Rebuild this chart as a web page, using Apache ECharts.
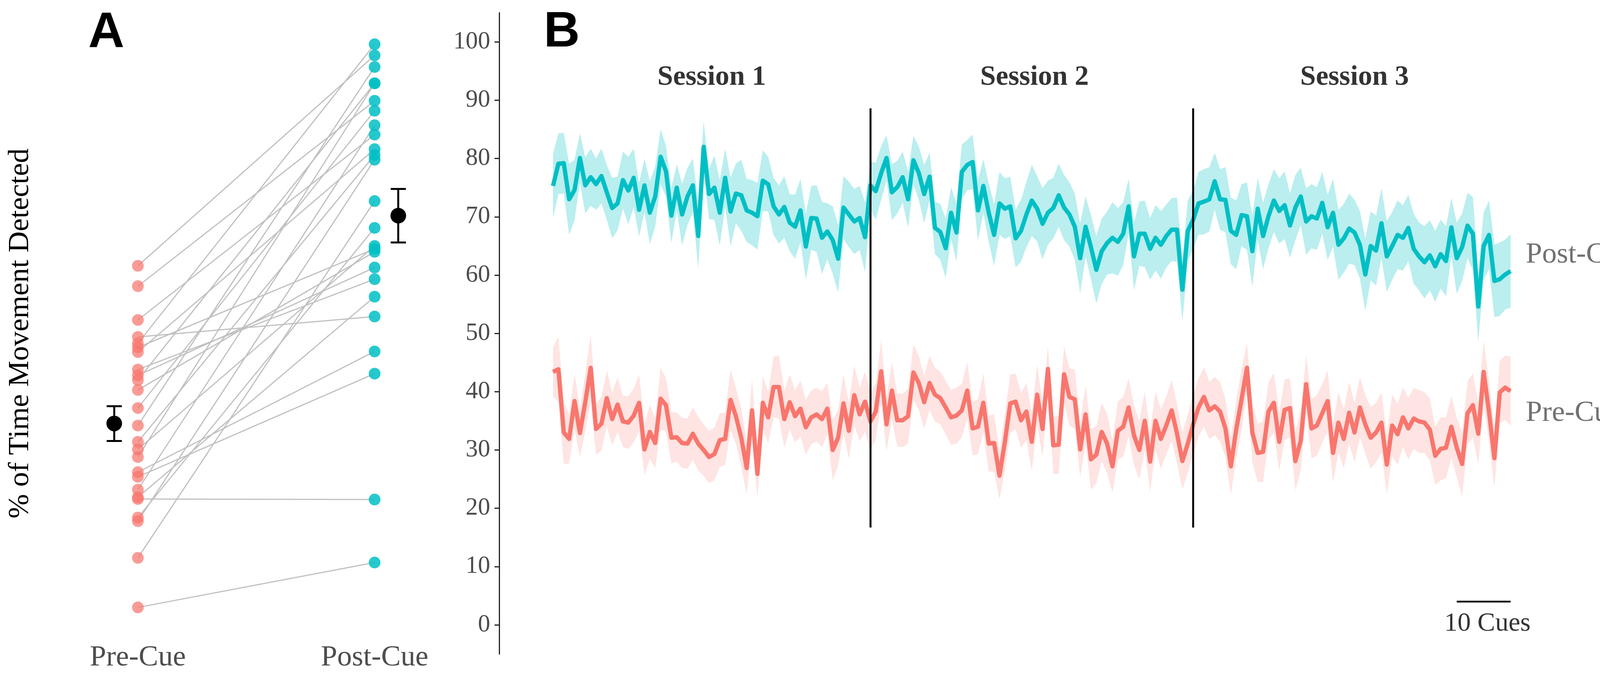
<!DOCTYPE html>
<html>
<head>
<meta charset="utf-8">
<title>% of Time Movement Detected</title>
<script src="https://cdn.jsdelivr.net/npm/echarts@6/dist/echarts.min.js"></script>
<style>
  html, body { margin: 0; padding: 0; background: #fff; overflow: hidden; }
  #chart { width: 4198px; height: 1735px; }
</style>
</head>
<body>
<div id="chart"></div>
<script>
// Panel A: one value per participant (same order in both arrays = pairs)
const preCue = [61.6, 58.1, 52.3, 49.4, 48.3, 47.6, 46.8, 43.8, 42.8, 42.0, 40.3, 37.2, 34.2,
  31.4, 30.1, 28.8, 26.2, 25.4, 23.2, 21.9, 21.6, 18.4, 17.8, 11.5, 3.0];
const postCue = [97.7, 89.9, 84.1, 52.9, 99.6, 64.5, 81.6, 59.3, 61.3, 92.9, 64.0, 88.2, 95.7,
  80.6, 65.0, 92.9, 46.9, 43.1, 85.7, 56.3, 21.5, 68.1, 79.8, 72.7, 10.7];
const groupLabels = ['Pre-Cue', 'Post-Cue'];

// Panel B: mean % per cue, one array per session
const postS1 = [75.3, 79.1, 79.2, 73.0, 74.6, 80.1, 75.4, 76.8, 75.6, 77.0, 74.2, 71.5, 72.3, 76.3, 74.5,
  76.7, 71.2, 75.4, 70.7, 73.5, 80.3, 77.8, 70.2, 75.0, 70.4, 73.5, 75.4, 66.7, 82.0, 73.9, 75.0, 70.7,
  76.7, 70.9, 74.0, 73.7, 71.1, 70.7, 70.1, 76.2, 75.6, 71.8, 70.4, 71.7, 69.0, 68.3, 71.1, 64.9, 69.8,
  69.7, 66.4, 67.5, 66.0, 62.8, 71.6, 70.4, 69.2, 69.8, 66.5, 75.4];
const postS2 = [74.4, 77.5, 80.1, 74.2, 75.1, 76.8, 73.0, 79.7, 77.5, 73.9, 76.9, 68.1, 67.4, 64.6, 70.7,
  67.3, 77.7, 78.9, 79.4, 71.1, 75.3, 70.7, 66.9, 72.3, 71.4, 71.8, 66.3, 67.6, 70.4, 72.8, 71.4, 68.8,
  70.7, 71.5, 73.7, 71.6, 70.4, 68.3, 62.9, 68.3, 64.8, 60.9, 64.1, 65.5, 66.4, 65.7, 67.1, 71.8, 63.2,
  67.1, 67.1, 64.5, 66.4, 65.2, 66.7, 67.8, 67.8, 57.5, 67.6, 69.5];
const postS3 = [72.3, 72.6, 73.0, 76.1, 73.0, 72.9, 67.6, 66.9, 70.3, 70.1, 64.1, 71.4, 66.7, 70.1, 72.8,
  71.0, 72.0, 68.5, 71.6, 73.5, 69.2, 70.1, 69.7, 72.4, 68.2, 70.7, 65.2, 66.3, 68.0, 67.3, 65.2, 60.1,
  65.0, 64.2, 68.9, 63.2, 65.0, 66.9, 66.4, 68.1, 64.5, 63.2, 62.2, 63.4, 61.5, 63.6, 62.4, 68.2, 62.9,
  64.8, 68.5, 67.1, 54.6, 65.0, 66.9, 59.0, 59.3, 60.1, 60.7];
const preS1 = [43.4, 43.85, 33.0, 31.9, 38.4, 32.9, 38.2, 44.1, 33.6, 34.5, 38.9, 35.3, 37.8, 34.9, 34.7,
  35.9, 38.1, 30.1, 33.1, 31.2, 38.8, 37.7, 32.1, 32.2, 31.2, 31.1, 32.8, 31.1, 30.0, 28.8, 29.3, 31.7,
  31.9, 38.6, 35.8, 32.1, 26.9, 36.8, 25.9, 38.1, 35.6, 40.8, 40.8, 35.3, 38.2, 35.8, 37.1, 33.9, 35.6,
  36.1, 35.3, 37.1, 30.0, 32.1, 38.0, 33.3, 39.4, 36.1, 38.3, 34.9];
const preS2 = [36.6, 43.5, 34.4, 40.2, 35.1, 35.1, 35.8, 43.3, 41.5, 38.2, 41.5, 39.5, 38.9, 37.3, 35.6,
  35.9, 36.8, 40.2, 33.7, 34.0, 38.1, 31.1, 31.2, 25.6, 31.4, 38.0, 38.3, 35.1, 36.6, 31.4, 39.5, 33.6,
  43.9, 30.8, 30.9, 43.0, 39.1, 38.7, 30.1, 36.1, 28.4, 29.2, 33.1, 31.1, 27.2, 33.3, 34.0, 37.3, 32.5,
  30.0, 35.0, 28.0, 35.0, 31.9, 34.2, 36.8, 32.8, 28.1, 31.1, 34.4];
const preS3 = [37.3, 39.1, 36.8, 37.5, 36.6, 33.7, 27.2, 33.5, 38.7, 44.1, 33.0, 29.5, 29.7, 36.6, 38.1,
  31.4, 36.9, 37.2, 28.1, 31.6, 41.3, 33.7, 34.2, 36.3, 38.4, 29.5, 34.7, 31.9, 36.4, 33.0, 37.3, 34.4,
  32.1, 33.0, 34.7, 27.5, 34.2, 32.7, 35.6, 33.7, 35.4, 34.9, 34.7, 33.5, 29.0, 30.2, 30.4, 34.0, 30.4,
  27.6, 36.3, 37.7, 32.8, 43.4, 36.5, 28.6, 39.9, 40.7, 40.1];

// standard error of each mean (half-height of the ribbon)
const postSeS1 = [5.5, 5.2, 5.2, 6.1, 5.2, 4.2, 4.8, 4.9, 4.4, 4.7, 4.7, 5.2, 4.6, 4.9, 5.8, 5.0, 4.6, 4.6,
  5.4, 5.2, 4.7, 4.4, 4.7, 4.0, 5.3, 4.9, 4.6, 5.6, 4.4, 4.3, 5.5, 5.6, 5.0, 5.9, 5.1, 6.1, 5.4, 5.6, 5.7,
  5.2, 4.7, 4.9, 5.0, 5.3, 4.9, 5.5, 5.4, 5.7, 5.5, 5.7, 6.2, 4.8, 5.8, 5.8, 5.4, 5.6, 5.6, 5.5, 6.0, 4.0];
const postSeS2 = [4.9, 4.6, 3.9, 4.8, 4.5, 4.4, 4.8, 4.2, 4.6, 5.0, 4.1, 4.5, 4.8, 5.1, 4.4, 5.0, 4.7, 4.3,
  4.7, 5.2, 4.6, 5.0, 5.3, 5.4, 5.2, 5.1, 5.0, 5.3, 5.6, 6.1, 5.6, 6.1, 5.5, 5.2, 5.4, 5.6, 5.5, 5.7, 6.0,
  5.2, 5.5, 5.8, 5.6, 5.4, 6.1, 5.8, 5.4, 4.7, 5.8, 5.5, 5.7, 5.3, 5.6, 5.8, 5.4, 5.4, 5.5, 5.4, 5.2, 5.0];
const postSeS3 = [5.4, 5.6, 5.5, 4.9, 5.2, 5.6, 5.7, 5.9, 5.3, 5.8, 6.1, 5.3, 5.7, 5.5, 5.4, 5.6, 5.8, 5.5,
  5.6, 4.9, 5.7, 5.5, 5.4, 5.3, 5.6, 5.8, 6.0, 5.9, 6.0, 5.6, 5.8, 6.2, 5.9, 6.0, 6.0, 6.1, 5.8, 5.9, 5.6,
  5.7, 6.0, 5.8, 6.2, 6.0, 6.1, 5.9, 6.0, 5.0, 6.1, 5.8, 5.6, 6.3, 6.0, 5.8, 5.9, 6.2, 6.3, 6.0, 6.3];
const preSeS1 = [4.2, 5.6, 5.4, 4.2, 4.7, 4.1, 5.0, 5.6, 4.4, 4.6, 4.8, 4.5, 4.7, 4.4, 4.5, 4.6, 4.9, 4.4,
  4.6, 4.3, 5.3, 4.6, 4.4, 4.2, 4.3, 4.3, 4.5, 4.6, 4.4, 4.5, 4.5, 4.6, 4.5, 5.2, 4.8, 5.0, 4.5, 5.3, 4.1,
  4.5, 4.4, 5.2, 5.4, 4.9, 4.7, 4.5, 4.8, 4.7, 4.6, 4.6, 4.8, 4.4, 5.2, 4.8, 5.0, 4.8, 5.1, 4.6, 5.2, 4.9];
const preSeS2 = [4.8, 5.3, 4.6, 4.9, 4.5, 4.6, 4.7, 4.8, 4.6, 4.5, 4.7, 4.6, 4.5, 4.6, 4.7, 4.8, 4.6, 4.9,
  4.6, 4.7, 5.0, 4.8, 4.9, 4.1, 4.8, 5.0, 4.8, 4.7, 4.9, 5.0, 5.1, 4.8, 3.9, 4.9, 5.0, 4.8, 4.9, 5.1, 4.7,
  5.0, 5.2, 4.9, 5.0, 5.1, 4.5, 5.0, 5.1, 5.0, 5.1, 5.0, 5.0, 5.2, 5.0, 5.1, 5.0, 5.2, 5.1, 4.9, 5.0, 5.1];
const preSeS3 = [5.0, 5.1, 4.9, 5.0, 5.1, 5.0, 4.9, 5.0, 5.2, 4.2, 5.1, 5.0, 5.2, 5.0, 5.1, 5.0, 5.2, 5.1,
  5.0, 5.2, 4.9, 5.1, 5.2, 5.0, 5.3, 5.1, 5.2, 5.0, 5.3, 5.1, 5.2, 5.0, 5.3, 5.1, 5.2, 5.0, 5.3, 5.2, 5.1,
  5.3, 5.2, 5.4, 5.2, 5.3, 5.0, 5.4, 5.2, 5.3, 5.1, 5.5, 5.4, 5.5, 5.3, 5.4, 5.3, 5.0, 5.4, 5.5, 5.9];

const sessionNames = ['Session 1', 'Session 2', 'Session 3'];
const yTicks = [0, 10, 20, 30, 40, 50, 60, 70, 80, 90, 100];
const scaleBarCues = 10;

const TEAL = '#00BFC4';
const SALMON = '#F8766D';
const SERIF = "'Liberation Serif', 'Times New Roman', serif";

const post = postS1.concat(postS2, postS3);
const pre = preS1.concat(preS2, preS3);
const postSe = postSeS1.concat(postSeS2, postSeS3);
const preSe = preSeS1.concat(preSeS2, preSeS3);
const nCues = post.length;
const sessionLens = [postS1.length, postS2.length, postS3.length];

// session boundaries and label centres in cue units
let start = 1;
const breaks = [];
const mids = [];
sessionLens.forEach((len, i) => {
  mids.push(start + (len - 1) / 2);
  start += len;
  if (i < sessionLens.length - 1) breaks.push(start - 1);
});

const xy = arr => arr.map((v, i) => [i + 1, v]);

function meanSe(arr) {
  const m = arr.reduce((a, b) => a + b, 0) / arr.length;
  const sd = Math.sqrt(arr.reduce((a, b) => a + (b - m) * (b - m), 0) / (arr.length - 1));
  return [m, sd / Math.sqrt(arr.length)];
}
const [preMean, preSeA] = meanSe(preCue);
const [postMean, postSeA] = meanSe(postCue);

function errorBar(x, m, se) {
  const w = 0.032;
  return [
    { coords: [[x, m - se], [x, m + se]] },
    { coords: [[x - w, m + se], [x + w, m + se]] },
    { coords: [[x - w, m - se], [x + w, m - se]] }
  ];
}

// mean +/- se ribbon drawn as one polygon through the axis scales
function band(mean, se, color) {
  const upper = mean.map((v, i) => [i + 1, v + se[i]]);
  const lower = mean.map((v, i) => [i + 1, v - se[i]]);
  return {
    type: 'custom', xAxisIndex: 1, yAxisIndex: 1, silent: true, z: 1,
    data: [[1, mean[0]]],
    renderItem: (params, api) => {
      const pts = upper.map(p => api.coord(p)).concat(lower.slice().reverse().map(p => api.coord(p)));
      return { type: 'polygon', shape: { points: pts }, style: { fill: color } };
    }
  };
}

const chart = echarts.init(document.getElementById('chart'));

chart.setOption({
  backgroundColor: '#fff',
  animation: false,
  title: [
    { text: 'A', left: 226, top: 22, padding: 0,
      textStyle: { fontSize: 128, fontWeight: 'bold', fontFamily: "'Liberation Sans', sans-serif", color: '#000' } },
    { text: 'B', left: 1392, top: 20, padding: 0,
      textStyle: { fontSize: 128, fontWeight: 'bold', fontFamily: "'Liberation Sans', sans-serif", color: '#000' } }
  ],
  grid: [
    { left: 130, top: 32.7, width: 1132, height: 1641, outerBoundsMode: 'none', containLabel: false },
    { left: 1278, top: 32.7, width: 2589, height: 1641, outerBoundsMode: 'none', containLabel: false }
  ],
  xAxis: [
    {
      gridIndex: 0, type: 'value', min: 0.632, max: 2.5,
      axisLine: { show: false, onZero: false }, axisTick: { show: false }, splitLine: { show: false },
      axisLabel: {
        customValues: [1, 2],
        formatter: v => groupLabels[Math.round(v) - 1] || '',
        margin: -28, fontSize: 75, fontFamily: SERIF, color: '#4d4d4d'
      }
    },
    {
      gridIndex: 1, type: 'value', min: -9, max: nCues, show: false,
      axisLine: { onZero: false }
    }
  ],
  yAxis: [
    {
      gridIndex: 0, type: 'value', min: -5, max: 105,
      name: '% of Time Movement Detected', nameLocation: 'middle', nameGap: 40, nameRotate: 90,
      nameTextStyle: { fontSize: 75, fontFamily: SERIF, color: '#000' },
      axisLine: { show: false, onZero: false }, axisTick: { show: false }, axisLabel: { show: false },
      splitLine: { show: false }
    },
    {
      gridIndex: 1, type: 'value', min: -5, max: 105,
      axisLine: { show: true, onZero: false, lineStyle: { color: '#222', width: 3 } },
      axisTick: { show: true, customValues: yTicks, length: 12, lineStyle: { color: '#222', width: 3 } },
      axisLabel: { customValues: yTicks, margin: 23, fontSize: 63, fontFamily: SERIF, color: '#4d4d4d' },
      splitLine: { show: false }
    }
  ],
  series: [
    // Panel A
    {
      type: 'lines', coordinateSystem: 'cartesian2d', xAxisIndex: 0, yAxisIndex: 0, silent: true,
      lineStyle: { color: '#c0c0c0', width: 3, opacity: 1 },
      data: preCue.map((v, i) => ({ coords: [[1, v], [2, postCue[i]]] }))
    },
    {
      type: 'scatter', xAxisIndex: 0, yAxisIndex: 0, symbolSize: 30,
      itemStyle: { color: SALMON, opacity: 0.72 },
      data: preCue.map(v => [1, v])
    },
    {
      type: 'scatter', xAxisIndex: 0, yAxisIndex: 0, symbolSize: 30,
      itemStyle: { color: TEAL, opacity: 0.85 },
      data: postCue.map(v => [2, v])
    },
    {
      type: 'lines', coordinateSystem: 'cartesian2d', xAxisIndex: 0, yAxisIndex: 0, silent: true,
      lineStyle: { color: '#000', width: 5, opacity: 1 },
      data: errorBar(0.9, preMean, preSeA).concat(errorBar(2.1, postMean, postSeA))
    },
    {
      type: 'scatter', xAxisIndex: 0, yAxisIndex: 0, symbolSize: 40,
      itemStyle: { color: '#000', opacity: 1 },
      data: [[0.9, preMean], [2.1, postMean]]
    },
    // Panel B ribbons and means
    band(post, postSe, 'rgba(0,191,196,0.27)'),
    band(pre, preSe, 'rgba(248,118,109,0.2)'),
    {
      type: 'line', xAxisIndex: 1, yAxisIndex: 1, symbol: 'none', z: 3,
      lineStyle: { color: TEAL, width: 11, join: 'round' },
      data: xy(post)
    },
    {
      type: 'line', xAxisIndex: 1, yAxisIndex: 1, symbol: 'none', z: 3,
      lineStyle: { color: SALMON, width: 11, join: 'round' },
      data: xy(pre)
    },
    // session dividers and scale bar
    {
      type: 'lines', coordinateSystem: 'cartesian2d', xAxisIndex: 1, yAxisIndex: 1, silent: true, z: 5,
      lineStyle: { color: '#000', width: 5, opacity: 1 },
      data: breaks.map(b => ({ coords: [[b, 16.7], [b, 88.6]] }))
        .concat([{ coords: [[nCues - scaleBarCues, 4.0], [nCues, 4.0]], lineStyle: { width: 4.5 } }])
    },
    // text anchored to the data area
    {
      type: 'scatter', xAxisIndex: 1, yAxisIndex: 1, symbolSize: 0, silent: true,
      label: { show: true, position: 'inside', formatter: p => p.name,
        fontSize: 72, fontWeight: 'bold', fontFamily: SERIF, color: '#000' },
      data: sessionNames.map((s, i) => ({ name: s, value: [mids[i], 93.9] }))
    },
    {
      type: 'scatter', xAxisIndex: 1, yAxisIndex: 1, symbolSize: 0, silent: true,
      label: { show: true, position: 'right', distance: 39, formatter: p => p.name,
        fontSize: 75, fontFamily: SERIF, color: '#4d4d4d' },
      data: [
        { name: groupLabels[1], value: [nCues, 63.5] },
        { name: groupLabels[0], value: [nCues, 36.3] }
      ]
    },
    {
      type: 'scatter', xAxisIndex: 1, yAxisIndex: 1, symbolSize: 0, silent: true,
      label: { show: true, position: 'inside', formatter: p => p.name,
        fontSize: 68, fontFamily: SERIF, color: '#000' },
      data: [{ name: scaleBarCues + ' Cues', value: [nCues - scaleBarCues / 2 + 0.7, 0.2] }]
    }
  ]
});
</script>
</body>
</html>
